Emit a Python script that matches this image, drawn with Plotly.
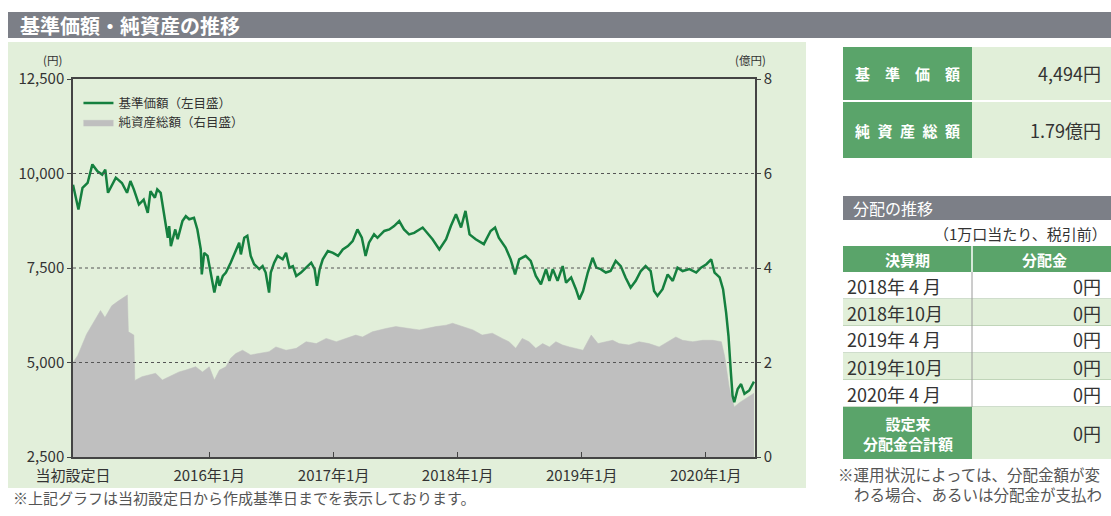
import plotly.graph_objects as go

# ---------------- data ----------------
nav_dates = [
    "2014-11-26", "2014-12-12", "2014-12-24", "2015-01-08", "2015-01-22", "2015-02-06",
    "2015-02-20", "2015-03-01", "2015-03-09", "2015-04-01", "2015-04-19", "2015-05-04",
    "2015-05-14", "2015-05-24", "2015-06-08", "2015-06-22", "2015-07-04", "2015-07-12",
    "2015-07-25", "2015-08-01", "2015-08-11", "2015-08-21", "2015-09-01", "2015-09-05",
    "2015-09-10", "2015-09-23", "2015-09-30", "2015-10-14", "2015-10-24", "2015-11-03",
    "2015-11-17", "2015-11-27", "2015-12-07", "2015-12-10", "2015-12-17", "2015-12-27",
    "2016-01-06", "2016-01-16", "2016-01-26", "2016-01-31", "2016-02-10", "2016-02-19",
    "2016-03-04", "2016-03-19", "2016-03-29", "2016-04-03", "2016-04-13", "2016-04-22",
    "2016-05-02", "2016-05-12", "2016-05-27", "2016-06-06", "2016-06-15", "2016-06-25",
    "2016-06-30", "2016-07-10", "2016-07-20", "2016-08-04", "2016-08-14", "2016-08-24",
    "2016-09-03", "2016-09-13", "2016-09-27", "2016-10-12", "2016-10-27", "2016-11-06",
    "2016-11-13", "2016-11-21", "2016-11-30", "2016-12-15", "2016-12-30", "2017-01-14",
    "2017-01-28", "2017-02-12", "2017-02-26", "2017-03-12", "2017-03-25", "2017-04-05",
    "2017-04-15", "2017-04-30", "2017-05-10", "2017-05-30", "2017-06-14", "2017-06-28",
    "2017-07-13", "2017-07-27", "2017-08-11", "2017-08-26", "2017-09-20", "2017-10-19",
    "2017-11-08", "2017-11-28", "2017-12-12", "2017-12-27", "2018-01-11", "2018-01-24",
    "2018-02-05", "2018-02-23", "2018-03-19", "2018-04-08", "2018-04-21", "2018-05-02",
    "2018-05-22", "2018-06-06", "2018-06-19", "2018-07-01", "2018-07-20", "2018-08-04",
    "2018-08-19", "2018-09-03", "2018-09-18", "2018-09-28", "2018-10-08", "2018-10-22",
    "2018-11-06", "2018-11-16", "2018-12-01", "2018-12-15", "2018-12-25", "2019-01-05",
    "2019-01-19", "2019-02-02", "2019-02-13", "2019-02-26", "2019-03-13", "2019-03-27",
    "2019-04-11", "2019-04-26", "2019-05-10", "2019-05-25", "2019-06-09", "2019-06-24",
    "2019-07-08", "2019-07-23", "2019-08-02", "2019-08-12", "2019-08-27", "2019-09-11",
    "2019-09-26", "2019-10-10", "2019-10-25", "2019-11-14", "2019-12-04", "2019-12-18",
    "2020-01-03", "2020-01-17", "2020-01-27", "2020-02-11", "2020-02-21", "2020-03-01",
    "2020-03-08", "2020-03-15", "2020-03-20", "2020-03-25", "2020-04-04", "2020-04-14",
    "2020-04-24", "2020-05-08", "2020-05-22",
]
nav_values = [
    9700, 9050, 9620, 9750, 10240, 10060,
    9970, 10100, 9490, 9890, 9750, 9490,
    9800, 9580, 9180, 9310, 8960, 9530,
    9360, 9580, 9490, 8870, 8300, 8610,
    8080, 8520, 8260, 8740, 8870, 8790,
    8830, 8520, 7990, 7330, 7900, 7820,
    7290, 6850, 7290, 7030, 7290, 7380,
    7640, 7990, 8170, 7860, 8300, 8350,
    7820, 7600, 7470, 7550, 7380, 6850,
    7380, 7640, 7820, 7730, 7900, 7510,
    7550, 7290, 7380, 7510, 7640, 7470,
    7030, 7470, 7730, 7950, 7900, 7820,
    7990, 8080, 8210, 8520, 8300, 7820,
    8170, 8390, 8300, 8480, 8520, 8610,
    8740, 8520, 8390, 8430, 8570, 8260,
    7990, 8260, 8610, 8920, 8570, 9010,
    8390, 8260, 8130, 8480, 8570, 8300,
    8040, 7730, 7330, 7730, 7820, 7690,
    7290, 7070, 7470, 7160, 7470, 7160,
    7550, 7110, 7250, 6940, 6670, 6890,
    7380, 7770, 7510, 7470, 7380, 7420,
    7690, 7550, 7250, 6980, 7160, 7420,
    7550, 7420, 6890, 6760, 6940, 7330,
    7160, 7510, 7420, 7470, 7380, 7510,
    7600, 7730, 7380, 7250, 6940, 6320,
    5700, 4740, 4120, 3950, 4300, 4430,
    4170, 4260, 4494,
]

na_dates = [
    "2014-11-26", "2014-12-10", "2015-01-05", "2015-02-01", "2015-02-15", "2015-02-28",
    "2015-03-20", "2015-04-08", "2015-04-25", "2015-05-05", "2015-05-08", "2015-05-24",
    "2015-05-27", "2015-06-17", "2015-07-27", "2015-08-16", "2015-09-05", "2015-10-04",
    "2015-10-24", "2015-11-22", "2015-12-12", "2016-01-01", "2016-01-16", "2016-01-31",
    "2016-02-19", "2016-03-04", "2016-03-19", "2016-04-08", "2016-05-02", "2016-05-27",
    "2016-06-25", "2016-07-15", "2016-08-14", "2016-09-13", "2016-10-12", "2016-11-11",
    "2016-12-10", "2017-01-09", "2017-02-08", "2017-03-07", "2017-03-27", "2017-04-25",
    "2017-06-04", "2017-07-03", "2017-08-11", "2017-09-10", "2017-10-29", "2017-11-28",
    "2017-12-17", "2018-01-16", "2018-02-15", "2018-03-14", "2018-04-13", "2018-05-12",
    "2018-06-01", "2018-06-21", "2018-07-10", "2018-07-30", "2018-08-19", "2018-09-08",
    "2018-09-28", "2018-10-17", "2018-11-06", "2018-11-26", "2018-12-15", "2019-01-05",
    "2019-01-29", "2019-02-18", "2019-03-13", "2019-04-02", "2019-04-21", "2019-05-20",
    "2019-06-19", "2019-07-18", "2019-08-17", "2019-09-16", "2019-10-05", "2019-10-25",
    "2019-11-24", "2019-12-23", "2020-01-22", "2020-02-16", "2020-02-26", "2020-03-10",
    "2020-03-25", "2020-04-09", "2020-04-29", "2020-05-22",
]
na_values = [
    2.00, 2.15, 2.60, 2.95, 3.10, 2.95,
    3.20, 3.30, 3.38, 3.43, 2.65, 2.58,
    1.62, 1.70, 1.77, 1.63, 1.70, 1.80,
    1.84, 1.91, 1.80, 1.91, 1.63, 1.84,
    1.91, 2.09, 2.19, 2.26, 2.16, 2.19,
    2.23, 2.33, 2.26, 2.30, 2.44, 2.40,
    2.51, 2.44, 2.51, 2.58, 2.54, 2.65,
    2.72, 2.76, 2.72, 2.69, 2.76, 2.79,
    2.83, 2.76, 2.69, 2.58, 2.62, 2.51,
    2.44, 2.30, 2.51, 2.44, 2.30, 2.40,
    2.33, 2.44, 2.37, 2.33, 2.30, 2.26,
    2.58, 2.40, 2.44, 2.47, 2.40, 2.37,
    2.44, 2.40, 2.33, 2.47, 2.54, 2.47,
    2.44, 2.47, 2.47, 2.44, 2.12, 1.48,
    1.06, 1.15, 1.25, 1.35,
]

x_tick_dates = ["2014-11-26", "2016-01-01", "2017-01-01", "2018-01-01", "2019-01-01", "2020-01-01"]
x_tick_labels = ["当初設定日", "2016年1月", "2017年1月", "2018年1月", "2019年1月", "2020年1月"]
x_end = "2020-05-25"
y_left_ticks = [2500, 5000, 7500, 10000, 12500]
y_right_ticks = [0, 2, 4, 6, 8]

summary_labels = ["基\u3000準\u3000価\u3000額", "純\u2002資\u2002産\u2002総\u2002額"]
summary_values = ["4,494円", "1.79億円"]

dist_periods = ["2018年 4 月", "2018年10月", "2019年 4 月", "2019年10月", "2020年 4 月"]
dist_amounts = ["0円", "0円", "0円", "0円", "0円"]
dist_total = "0円"

# ---------------- styling ----------------
FONT = "Noto Sans CJK JP"
GREEN_LINE = "#15803f"
GRAY_FILL = "#bfbfbf"
CELL_GREEN = "#5aa46a"
LIGHT_GREEN = "#e1efd9"
PANEL_GREEN = "#e2efda"
BAR_GRAY = "#7c7f87"
TXT = "#333333"

FIG_W, FIG_H = 1111, 516
L, R, T, B = 73, 356, 79, 59
W = FIG_W - L - R
H = FIG_H - T - B


def fx(px):
    return (px - L) / W


def fy(py):
    return (FIG_H - B - py) / H


shapes = []
annotations = []


def rect(x0, x1, y0, y1, color):
    shapes.append(dict(type="rect", xref="paper", yref="paper", layer="below",
                       x0=fx(x0), x1=fx(x1), y0=fy(y0), y1=fy(y1),
                       fillcolor=color, line=dict(width=0)))


def hline(x0, x1, y, color, width=1):
    shapes.append(dict(type="line", xref="paper", yref="paper", layer="below",
                       x0=fx(x0), x1=fx(x1), y0=fy(y), y1=fy(y),
                       line=dict(color=color, width=width)))


def vline(x, y0, y1, color, width=1):
    shapes.append(dict(type="line", xref="paper", yref="paper", layer="below",
                       x0=fx(x), x1=fx(x), y0=fy(y0), y1=fy(y1),
                       line=dict(color=color, width=width)))


def text(px, py, s, size, color=TXT, xanchor="center"):
    annotations.append(dict(xref="paper", yref="paper", x=fx(px), y=fy(py),
                            xanchor=xanchor, yanchor="middle", showarrow=False,
                            text=s, font=dict(family=FONT, size=size, color=color)))


fig = go.Figure()
fig.add_trace(go.Scatter(
    x=na_dates, y=na_values, yaxis="y", mode="lines",
    fill="tozeroy", fillcolor=GRAY_FILL, line=dict(color=GRAY_FILL, width=0.5),
    name="純資産総額（右目盛）", hoverinfo="skip",
))
fig.add_trace(go.Scatter(
    x=nav_dates, y=nav_values, yaxis="y2", mode="lines",
    line=dict(color=GREEN_LINE, width=2.5),
    name="基準価額（左目盛）",
))

# backgrounds and title bar
rect(8, 806, 42, 488, PANEL_GREEN)
rect(8, 1115, 12, 38, BAR_GRAY)
text(18, 25, "<b>基準価額・純資産の推移</b>", 20, "white", "left")

# dotted grid lines above the area
for v in y_right_ticks[1:-1]:
    shapes.append(dict(type="line", xref="paper", yref="y", x0=0, x1=1, y0=v, y1=v,
                       layer="above", line=dict(color="#555555", width=1, dash="dot")))

# axis unit labels
text(52, 60, "(円)", 11.5)
text(750, 60, "(億円)", 11.5)

# left footnote
text(11, 497, "※上記グラフは当初設定日から作成基準日までを表示しております。", 15, "#555555", "left")

# --- right panel: summary ---
X0, XS, X1 = 843, 972, 1111
sum_rows = [(47, 100), (102, 158)]
for (y0, y1), lab, val in zip(sum_rows, summary_labels, summary_values):
    rect(X0, XS, y0, y1, CELL_GREEN)
    rect(XS, X1 + 5, y0, y1, LIGHT_GREEN)
    text((X0 + XS) / 2, (y0 + y1) / 2, "<b>" + lab + "</b>", 15, "white")
    text(1103, (y0 + y1) / 2, val, 18, TXT, "right")

# --- right panel: distribution table ---
BAR0 = 196
rect(X0, X1 + 5, BAR0, BAR0 + 24, BAR_GRAY)
text(851, BAR0 + 12, "分配の推移", 16, "white", "left")
text(1109, BAR0 + 37, "（1万口当たり、税引前）", 15, TXT, "right")

HDR0 = BAR0 + 50
HDR1 = HDR0 + 26
ROW_H = 27
rect(X0, X1 + 5, HDR0, HDR1, CELL_GREEN)
vline(XS, HDR0, HDR1, "white", 1.5)
text((X0 + XS) / 2, (HDR0 + HDR1) / 2, "<b>決算期</b>", 15, "white")
text((XS + X1) / 2 + 3, (HDR0 + HDR1) / 2, "<b>分配金</b>", 15, "white")

for i, (per, amt) in enumerate(zip(dist_periods, dist_amounts)):
    y0 = HDR1 + i * ROW_H
    y1 = y0 + ROW_H
    rect(X0, X1 + 5, y0, y1, "white" if i % 2 == 0 else LIGHT_GREEN)
    hline(X0, X1 + 5, y1, "#9fba98")
    vline(XS, y0, y1, "#9a9a9a")
    text(845, (y0 + y1) / 2, per, 18, TXT, "left")
    text(1103, (y0 + y1) / 2, amt, 18, TXT, "right")

TOT0 = HDR1 + len(dist_periods) * ROW_H
TOT1 = TOT0 + 52
rect(X0, XS, TOT0, TOT1, CELL_GREEN)
rect(XS, X1 + 5, TOT0, TOT1, LIGHT_GREEN)
text((X0 + XS) / 2, (TOT0 + TOT1) / 2, "<b>設定来<br>分配金合計額</b>", 15, "white")
text(1103, (TOT0 + TOT1) / 2, dist_total, 18, TXT, "right")

text(836, TOT1 + 15, "※運用状況によっては、分配金額が変", 15.5, "#555555", "left")
text(852, TOT1 + 35, "わる場合、あるいは分配金が支払わ", 15.5, "#555555", "left")

axis_common = dict(showline=True, linecolor="#444444", linewidth=1.5,
                   tickcolor="#444444", showgrid=False, zeroline=False,
                   tickfont=dict(family=FONT, size=15, color=TXT))

fig.update_layout(
    width=FIG_W, height=FIG_H,
    margin=dict(l=L, r=R, t=T, b=B),
    paper_bgcolor="white", plot_bgcolor="white",
    font=dict(family=FONT, color=TXT),
    showlegend=True,
    legend=dict(x=0.008, y=0.975, xanchor="left", yanchor="top",
                traceorder="reversed", bgcolor="rgba(0,0,0,0)",
                font=dict(family=FONT, size=12.5, color=TXT),
                itemwidth=30, tracegroupgap=0),
    xaxis=dict(type="date", range=[x_tick_dates[0], x_end],
               tickmode="array", tickvals=x_tick_dates, ticktext=x_tick_labels,
               ticks="inside", ticklen=5, mirror=True, ticklabelstandoff=4,
               **axis_common),
    yaxis=dict(range=[y_right_ticks[0], y_right_ticks[-1]], side="right",
               tickmode="array", tickvals=y_right_ticks,
               ticks="outside", ticklen=4, **axis_common),
    yaxis2=dict(range=[y_left_ticks[0], y_left_ticks[-1]], side="left", overlaying="y",
                tickmode="array", tickvals=y_left_ticks, tickformat=",",
                ticks="outside", ticklen=4, **axis_common),
    shapes=shapes,
    annotations=annotations,
)

fig.write_html("out.html", config={"displayModeBar": False},
               post_script="document.body.style.margin='0';document.body.style.overflow='hidden';")
